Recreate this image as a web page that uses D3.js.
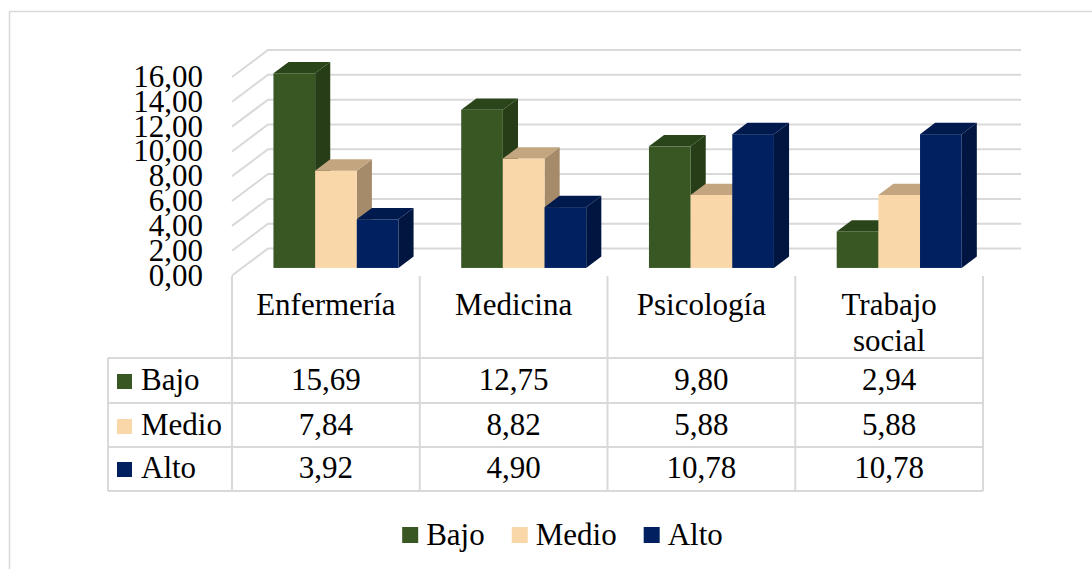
<!DOCTYPE html>
<html>
<head>
<meta charset="utf-8">
<script src="https://cdn.jsdelivr.net/npm/d3@7"></script>
</head>
<body style="margin:0">
<svg id="chart" width="1092" height="569"></svg>
<script>
// Categories, series and values
const categories = ["Enfermería", "Medicina", "Psicología", "Trabajo social"];
const categoryLines = [["Enfermería"], ["Medicina"], ["Psicología"], ["Trabajo", "social"]];
const seriesNames = ["Bajo", "Medio", "Alto"];
const bajo  = [15.69, 12.75, 9.80, 2.94];
const medio = [7.84, 8.82, 5.88, 5.88];
const alto  = [3.92, 4.90, 10.78, 10.78];
const yTicks = [0, 2, 4, 6, 8, 10, 12, 14, 16];

const seriesValues = [bajo, medio, alto];
const faceColors = [
  { front: "#385723", side: "#263d17", top: "#2b451a" },
  { front: "#f9d7a9", side: "#a68b6b", top: "#c3a67f" },
  { front: "#002060", side: "#00153f", top: "#001a4e" }
];

const fmt = d3.formatLocale({ decimal: ",", thousands: ".", grouping: [3], currency: ["", ""] }).format(".2f");

const SERIF = "'Liberation Serif', Tinos, 'Times New Roman', serif";
const svg = d3.select("#chart");
const GRID = "#d9d9d9";
const FONT = 31;

// every label uses the same serif face
function label(sel) {
  return sel.append("text").style("font-family", SERIF).attr("font-size", FONT).attr("fill", "#000");
}

// outer frame
svg.append("rect")
  .attr("x", 9.5).attr("y", 11.5).attr("width", 1200).attr("height", 700)
  .attr("fill", "none").attr("stroke", GRID).attr("stroke-width", 1.5);

// projection: front plane + depth offset
const DX = 36, DY = -27;
const x = d3.scaleBand().domain(categories).range([232, 983]).paddingInner(0).paddingOuter(0);
const y = d3.scaleLinear().domain([0, 16]).range([275.5, 77]);

// gridlines: slanted side wall + back wall
const grid = svg.append("g").attr("stroke", GRID).attr("stroke-width", 2).attr("fill", "none");
yTicks.forEach(v => {
  const yf = y(v);
  grid.append("path")
    .attr("d", `M${x.range()[0]},${yf} L${x.range()[0] + DX},${yf + DY} L1021,${yf + DY}`);
});

// y axis labels
const yAxis = svg.append("g");
yTicks.forEach(v => {
  label(yAxis).attr("x", 203).attr("y", y(v) + 10).attr("text-anchor", "end").text(fmt(v));
});

// 3D bars
const zFront = 0.28, zBack = 0.70;
const groupW = 125;
const inner = d3.scaleBand().domain(seriesNames).range([0, groupW]);
const bars = svg.append("g");
categories.forEach((cat, ci) => {
  const gx = x(cat) + (x.bandwidth() - groupW) / 2 + DX * zFront;
  seriesNames.forEach((s, si) => {
    const v = seriesValues[si][ci];
    const x0 = gx + inner(s), x1 = x0 + inner.bandwidth();
    const base = y(0) + DY * zFront;
    const top = y(v) + DY * zFront;
    const ddx = DX * (zBack - zFront), ddy = DY * (zBack - zFront);
    const c = faceColors[si];
    bars.append("path")
      .attr("d", `M${x1},${top} L${x1 + ddx},${top + ddy} L${x1 + ddx},${base + ddy} L${x1},${base} Z`)
      .attr("fill", c.side);
    bars.append("rect")
      .attr("x", x0).attr("y", top).attr("width", x1 - x0).attr("height", base - top)
      .attr("fill", c.front);
    bars.append("path")
      .attr("d", `M${x0},${top} L${x0 + ddx},${top + ddy} L${x1 + ddx},${top + ddy} L${x1},${top} Z`)
      .attr("fill", c.top);
  });
});

// data table
const rowTops = [358, 403, 447, 491];
const table = svg.append("g").attr("stroke", GRID).attr("stroke-width", 2).attr("fill", "none");
[...categories.map(c => x(c)), x.range()[1]].forEach(xx => {
  table.append("line").attr("x1", xx).attr("x2", xx).attr("y1", 276).attr("y2", 491);
});
table.append("line").attr("x1", 108).attr("x2", 108).attr("y1", 358).attr("y2", 491);
rowTops.forEach(yy => {
  table.append("line").attr("x1", 108).attr("x2", x.range()[1]).attr("y1", yy).attr("y2", yy);
});

// column headers
categories.forEach((cat, ci) => {
  const cx = x(cat) + x.bandwidth() / 2;
  const t = label(svg).attr("x", cx).attr("y", 315).attr("text-anchor", "middle");
  categoryLines[ci].forEach((line, li) => {
    t.append("tspan").attr("x", cx).attr("dy", li === 0 ? 0 : 36).text(line);
  });
});

// table rows
const rowBaselines = [390, 435, 478];
seriesNames.forEach((s, si) => {
  svg.append("rect")
    .attr("x", 117).attr("y", rowBaselines[si] - 16).attr("width", 15).attr("height", 15)
    .attr("fill", faceColors[si].front);
  label(svg).attr("x", 141).attr("y", rowBaselines[si]).text(s);
  categories.forEach((cat, ci) => {
    label(svg)
      .attr("x", x(cat) + x.bandwidth() / 2).attr("y", rowBaselines[si])
      .attr("text-anchor", "middle")
      .text(fmt(seriesValues[si][ci]));
  });
});

// legend
const legend = svg.append("g");
const items = seriesNames.map((s, si) => {
  const g = legend.append("g");
  g.append("rect").attr("x", 0).attr("y", -18).attr("width", 16).attr("height", 16)
    .attr("fill", faceColors[si].front);
  const t = label(g).attr("x", 24).attr("y", 0).text(s);
  return { g, w: 24 + t.node().getComputedTextLength() };
});
const gap = 27;
const total = d3.sum(items, d => d.w) + gap * (items.length - 1);
let lx = 562.5 - total / 2;
items.forEach(it => {
  it.g.attr("transform", `translate(${lx},545)`);
  lx += it.w + gap;
});
</script>
</body>
</html>
